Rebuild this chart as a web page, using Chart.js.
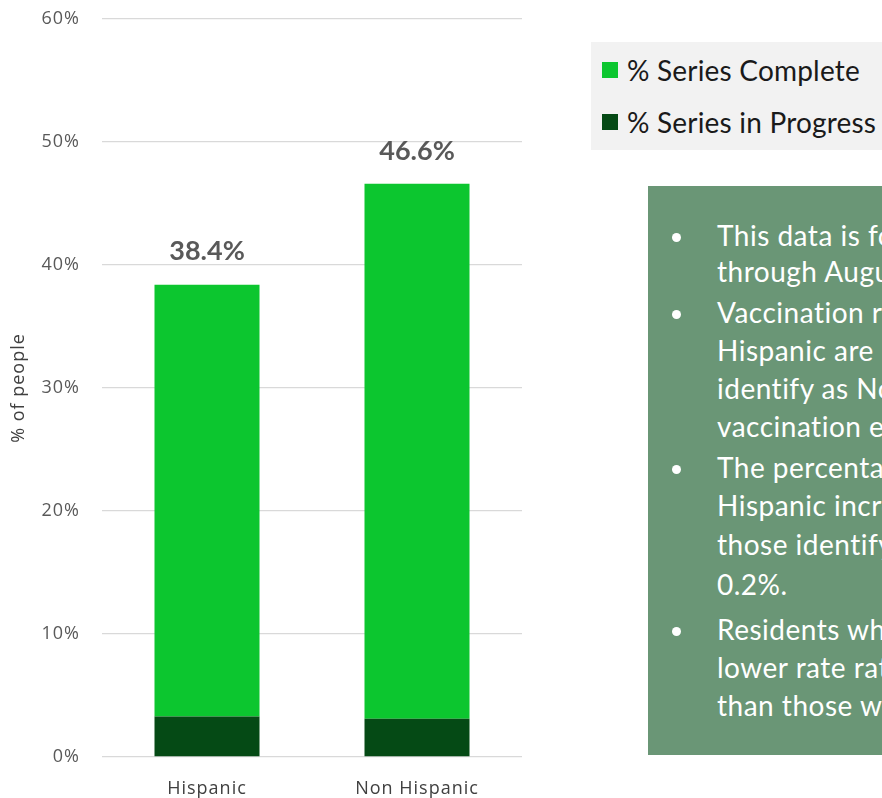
<!DOCTYPE html>
<html>
<head>
<meta charset="utf-8">
<script src="https://cdn.jsdelivr.net/npm/chart.js@4/dist/chart.umd.min.js"></script>
<style>
  html, body { margin:0; padding:0; background:#fff; width:882px; height:798px; overflow:hidden; position:relative; }
  #wrap { position:absolute; left:0; top:0; width:540px; height:798px; }
  #legend { position:absolute; left:591px; top:42px; width:300px; height:108px; background:#f2f2f2;
    font-family: Lato, "Open Sans", sans-serif; font-size:28px; color:#1a1a1a; letter-spacing:0.2px; }
  .li { position:absolute; left:36px; white-space:nowrap; line-height:34px; }
  .sw { position:absolute; left:11px; width:16px; height:16px; }
  #note { position:absolute; left:648px; top:186px; width:420px; height:569px; background:#6a9676;
    font-family: Lato, "Open Sans", sans-serif; font-size:28px; color:#fff; overflow:hidden; letter-spacing:0.5px; }
  #note .ln { position:absolute; left:69px; white-space:nowrap; line-height:38px; }
  #note .b { position:absolute; left:24px; width:9px; height:9px; border-radius:50%; background:#fff; }
</style>
</head>
<body>
<div id="wrap"><canvas id="c" width="540" height="798"></canvas></div>
<div id="legend"></div>
<div id="note"></div>
<script>
const categories = ["Hispanic", "Non Hispanic"];
const seriesInProgress = [3.3, 3.1];
const seriesComplete = [35.1, 43.5];
const totals = [38.4, 46.6];
const seriesNames = ["% Series Complete", "% Series in Progress"];
const colorComplete = "#0cc62f";
const colorProgress = "#054a15";

const noteLines = [
  ["This data is for residents vaccinated", true],
  ["through August 2021.", false],
  ["Vaccination rates for residents who are", true],
  ["Hispanic are lower than for those who", false],
  ["identify as Non Hispanic, despite", false],
  ["vaccination efforts.", false],
  ["The percentage of residents who are", true],
  ["Hispanic increased by 0.4% while", false],
  ["those identifying as Non Hispanic by", false],
  ["0.2%.", false],
  ["Residents who are Hispanic have a", true],
  ["lower rate rate of series completion", false],
  ["than those who are Non Hispanic.", false]
];

// legend
const legend = document.getElementById('legend');
[[seriesNames[0], colorComplete, 11], [seriesNames[1], colorProgress, 63]].forEach(([t, c, y]) => {
  const s = document.createElement('div');
  s.className = 'sw'; s.style.background = c; s.style.top = (y + 9) + 'px';
  legend.appendChild(s);
  const d = document.createElement('div');
  d.className = 'li'; d.style.top = y + 'px'; d.textContent = t;
  legend.appendChild(d);
});
// note box
const note = document.getElementById('note');
const lineYs = [30, 66, 107, 145, 183, 221, 262, 300, 339, 379, 424, 462, 500];
noteLines.forEach(([t, bullet], i) => {
  const d = document.createElement('div');
  d.className = 'ln'; d.style.top = (lineYs[i]) + 'px'; d.textContent = t;
  note.appendChild(d);
  if (bullet) {
    const b = document.createElement('div');
    b.className = 'b'; b.style.top = (lineYs[i] + 17) + 'px';
    note.appendChild(b);
  }
});

const spacing = {
  id: 'spacing',
  beforeUpdate(chart) { chart.ctx.letterSpacing = '1px'; },
  beforeDraw(chart) { chart.ctx.letterSpacing = '1px'; }
};

const totalLabels = {
  id: 'totalLabels',
  afterDatasetsDraw(chart) {
    const ctx = chart.ctx;
    const meta = chart.getDatasetMeta(1);
    const y = chart.scales.y;
    ctx.save();
    ctx.letterSpacing = '0px';
    ctx.font = 'bold 27px Lato, "Open Sans", sans-serif';
    ctx.fillStyle = '#595959';
    ctx.textAlign = 'center';
    ctx.textBaseline = 'middle';
    meta.data.forEach((bar, i) => {
      ctx.fillText(totals[i].toFixed(1) + '%', bar.x, y.getPixelForValue(totals[i]) - 33);
    });
    ctx.restore();
  }
};

const axisFont = { family: '"Open Sans", sans-serif', size: 18 };

new Chart(document.getElementById('c'), {
  type: 'bar',
  data: {
    labels: categories,
    datasets: [
      { label: seriesNames[1], data: seriesInProgress, backgroundColor: colorProgress },
      { label: seriesNames[0], data: seriesComplete, backgroundColor: colorComplete }
    ]
  },
  options: {
    responsive: false,
    animation: false,
    categoryPercentage: 1.0,
    barPercentage: 0.5,
    layout: { padding: { top: 19, right: 18, left: 0, bottom: 0 } },
    plugins: { legend: { display: false }, tooltip: { enabled: false } },
    scales: {
      x: {
        stacked: true,
        grid: { display: false, drawTicks: false },
        border: { display: false },
        ticks: { color: '#404040', font: axisFont, padding: 21 },
        afterFit(s) { s.height = 41; }
      },
      y: {
        stacked: true,
        min: 0, max: 60,
        grid: { color: '#d9d9d9', drawTicks: false, lineWidth: 1.3 },
        border: { display: false },
        ticks: { stepSize: 10, color: '#595959', padding: 22, font: axisFont,
          callback: v => v + '%' },
        title: { display: true, text: '% of people', color: '#404040',
          font: axisFont, padding: { top: 8, bottom: 0 } },
        afterFit(s) { s.width = 102; s.paddingTop = 0; s.paddingBottom = 0; }
      }
    }
  },
  plugins: [spacing, totalLabels]
});
</script>
</body>
</html>
